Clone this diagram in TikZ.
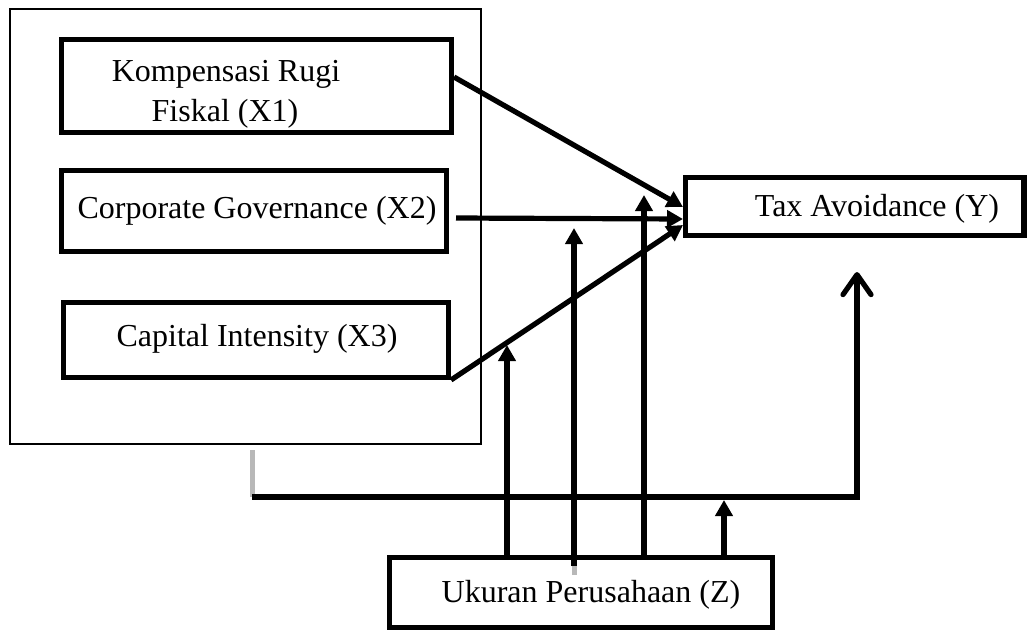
\documentclass[tikz,border=0pt]{standalone}
\usepackage{fontspec}
\setmainfont{Liberation Serif}
\usetikzlibrary{arrows.meta}
\begin{document}
\begin{tikzpicture}[x=0.5pt,y=-0.5pt,
  box/.style={draw,line width=2.6pt,inner sep=0pt},
  lbl/.style={inner sep=0pt,anchor=base,font=\fontsize{16}{20}\selectfont},
  conn/.style={line width=2.6pt},
  arr/.style={conn,-{Triangle[length=8pt,width=8.5pt]}},
  barb/.style={conn,line join=miter,-{Straight Barb[length=10pt,width=14pt,line cap=round,line join=round]}},
  stub/.style={line width=2.5pt,draw=black!28}]
\useasboundingbox (0,0) rectangle (1027,632);
% outer frame
\node[draw,line width=0.75pt,inner sep=0pt,minimum width=235.5pt,minimum height=217.5pt] (outer) at (245.5,226.5) {};
% boxes
\node[box,minimum width=195pt,minimum height=46.5pt] (x1) at (256.5,86) {};
\node[box,minimum width=192.5pt,minimum height=40.5pt] (x2) at (254,211) {};
\node[box,minimum width=192.5pt,minimum height=37.5pt] (x3) at (256,340) {};
\node[box,minimum width=169.25pt,minimum height=29pt] (y) at (854.75,206.5) {};
\node[box,minimum width=191.5pt,minimum height=35pt] (z) at (581,592.5) {};
% labels
\node[lbl] (t1a) at (226,81) {Kompensasi Rugi};
\node[lbl] (t1b) at (225,121) {Fiskal (X1)};
\node[lbl] (t2) at (257,218) {Corporate Governance (X2)};
\node[lbl] (t3) at (257,346) {Capital Intensity (X3)};
\node[lbl] (ty) at (877,216) {Tax Avoidance (Y)};
\node[lbl] (tz) at (591,602) {Ukuran Perusahaan (Z)};
% connector end points
\coordinate (a1) at (454,77);
\coordinate (a2) at (456,218);
\coordinate (a3) at (451,380);
\coordinate (b1) at (683,207);
\coordinate (b2) at (683,219);
\coordinate (b3) at (683,225);
\coordinate (v1) at (507,345);
\coordinate (v2) at (574,228);
\coordinate (v2s) at (574,566);
\coordinate (v2g) at (574,575);
\coordinate (v3) at (644,195);
\coordinate (v4) at (724,500);
\coordinate (s0) at (252,450);
\coordinate (s1) at (252,497);
\coordinate (s2) at (857,497);
\coordinate (s3) at (857,272);
% X -> Y
\draw[arr] (a1) -- (b1);
\draw[arr] (a2) -- (b2);
\draw[arr] (a3) -- (b3);
% moderator arrows
\draw[arr] (z.north -| v1) -- (v1);
\draw[stub] (v2g) -- (v2s);
\draw[arr] (v2s) -- (v2);
\draw[arr] (z.north -| v3) -- (v3);
\draw[arr] (z.north -| v4) -- (v4);
% bus to Y
\draw[stub] (s0) -- (s1);
\draw[barb] (s1) -- (s2) -- (s3);
\end{tikzpicture}
\end{document}
